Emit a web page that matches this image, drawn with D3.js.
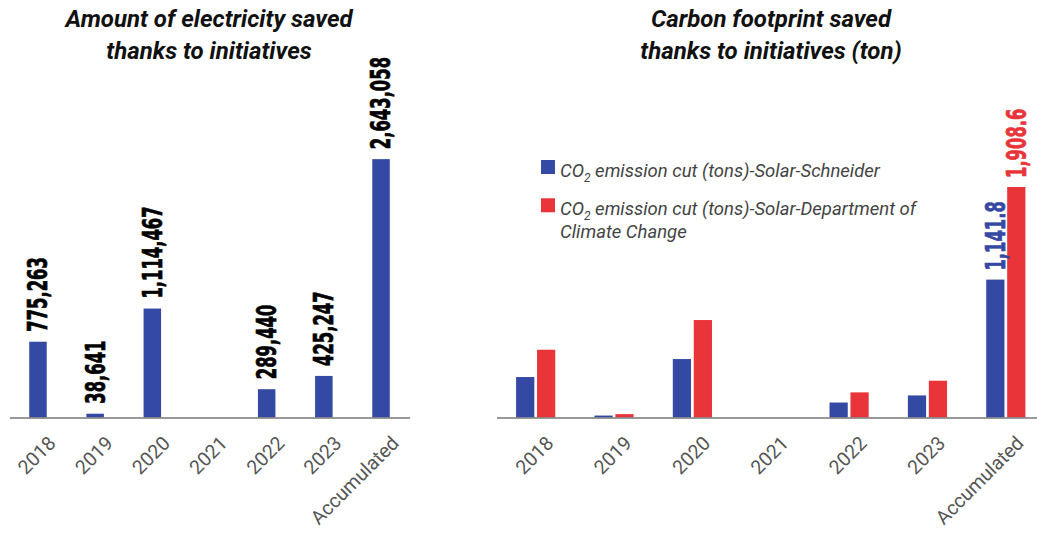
<!DOCTYPE html>
<html>
<head>
<meta charset="utf-8">
<script src="https://cdn.jsdelivr.net/npm/d3@7"></script>
<style>
  html, body { margin: 0; padding: 0; background: #fff; }
  svg { display: block; }
</style>
</head>
<body>
<svg width="1037" height="534"></svg>
<script>
// --- Dados ---
const categorias = ['2018', '2019', '2020', '2021', '2022', '2023', 'Accumulated'];
const eletricidade = [775263, 38641, 1114467, 0, 289440, 425247, 2643058];
const co2Schneider = [335, 16, 484, 0, 124, 182.8, 1141.8];
const co2Dcc = [561, 28, 807, 0, 208, 304.6, 1908.6];
const series = ['Schneider', 'DCC'];
const legendaSerie = ['CO2 emission cut (tons)-Solar-Schneider',
                      'CO2 emission cut (tons)-Solar-Department of|Climate Change'];

const AZUL = '#3449a3';
const VERMELHO = '#e9343a';
const fonteValor = '"Liberation Sans Narrow", "DejaVu Sans Condensed", sans-serif';
const fonteEixo = 'Roboto, sans-serif';

const svg = d3.select('svg');
const eixoY0 = 417.5;

// --- Títulos ---
function titulo(cx, linhas) {
    const t = svg.append('text')
        .attr('text-anchor', 'middle')
        .attr('font-family', fonteEixo)
        .attr('font-weight', 700)
        .attr('font-style', 'italic')
        .attr('font-size', 24)
        .attr('fill', '#111');
    linhas.forEach((l, i) => {
        t.append('tspan').attr('x', cx).attr('y', 26.5 + i * 32).text(l);
    });
}
titulo(209, ['Amount of electricity saved', 'thanks to initiatives']);
titulo(771, ['Carbon footprint saved', 'thanks to initiatives (ton)']);

// --- Eixo X comum ---
function eixoX(g, x) {
    const ax = g.append('g')
        .attr('transform', `translate(0, ${eixoY0})`)
        .call(d3.axisBottom(x).tickSize(0).tickSizeOuter(0));
    ax.select('.domain').attr('stroke', '#777').attr('stroke-width', 1.5);
    ax.selectAll('text')
        .attr('x', 0).attr('y', 0).attr('dy', 0)
        .attr('transform', 'translate(19, 27) rotate(-45)')
        .style('text-anchor', 'end')
        .attr('font-family', fonteEixo)
        .attr('font-size', 19.5)
        .attr('fill', '#555');
}

// rótulo de valor vertical, fonte condensada e pesada
function rotulo(sel, fx, fy) {
    sel.attr('transform', d => `translate(${fx(d)}, ${fy(d)}) rotate(-90) scale(0.7, 1)`)
        .attr('dy', '0.36em')
        .attr('font-family', fonteValor)
        .attr('font-weight', 700)
        .attr('font-size', 26)
        .attr('stroke-width', 0.7);
}

// ===== Gráfico 1: eletricidade =====
const g1 = svg.append('g');
const x1 = d3.scaleBand()
    .domain(categorias)
    .range([9.4, 409.6])
    .paddingInner(0.694)
    .paddingOuter(0.347);
const y1 = d3.scaleLinear()
    .domain([0, 3000000])
    .range([eixoY0, eixoY0 - 3000000 / 10230]);

const dados1 = categorias.map((c, i) => ({ cat: c, v: eletricidade[i] }));

g1.selectAll('rect')
    .data(dados1)
    .join('rect')
        .attr('x', d => x1(d.cat))
        .attr('y', d => y1(d.v))
        .attr('width', x1.bandwidth())
        .attr('height', d => y1(0) - y1(d.v))
        .attr('fill', AZUL);

eixoX(g1, x1);

g1.selectAll('text.valor')
    .data(dados1.filter(d => d.v > 0))
    .join('text')
        .attr('class', 'valor')
        .call(rotulo, d => x1(d.cat) + x1.bandwidth() / 2, d => y1(d.v) - 10)
        .attr('fill', '#000')
        .attr('stroke', '#000')
        .text(d => d3.format(',')(d.v));

// ===== Gráfico 2: CO2 =====
const g2 = svg.append('g');
const x2 = d3.scaleBand()
    .domain(categorias)
    .range([496.5, 1045])
    .paddingInner(0.5)
    .paddingOuter(0.25);
const xs = d3.scaleBand()
    .domain(series)
    .range([0, x2.bandwidth()])
    .paddingInner(0.13);
const y2 = d3.scaleLinear()
    .domain([0, 2500])
    .range([eixoY0, eixoY0 - 2500 / 8.28]);
const cor = d3.scaleOrdinal().domain(series).range([AZUL, VERMELHO]);

const dados2 = categorias.map((c, i) => ({
    cat: c,
    valores: [{ key: 'Schneider', v: co2Schneider[i] }, { key: 'DCC', v: co2Dcc[i] }]
}));

const grupos = g2.append('g')
    .selectAll('g')
    .data(dados2)
    .join('g')
        .attr('transform', d => `translate(${x2(d.cat)},0)`);

grupos.selectAll('rect')
    .data(d => d.valores)
    .join('rect')
        .attr('x', d => xs(d.key))
        .attr('y', d => y2(d.v))
        .attr('width', xs.bandwidth())
        .attr('height', d => y2(0) - y2(d.v))
        .attr('fill', d => cor(d.key));

eixoX(g2, x2);

// rótulos só no acumulado
const ultimo = dados2[dados2.length - 1];
g2.selectAll('text.valor')
    .data(ultimo.valores)
    .join('text')
        .attr('class', 'valor')
        .call(rotulo, d => x2(ultimo.cat) + xs(d.key) + xs.bandwidth() / 2, d => y2(d.v) - 9)
        .attr('fill', d => cor(d.key))
        .attr('stroke', d => cor(d.key))
        .text(d => d3.format(',.1f')(d.v));

// --- Legenda ---
const leg = svg.append('g')
    .selectAll('g')
    .data(series)
    .join('g')
        .attr('transform', (d, i) => `translate(541, ${160 + i * 38.3})`);

leg.append('rect')
    .attr('width', 14)
    .attr('height', 14)
    .attr('fill', d => cor(d));

leg.each(function (d, i) {
    const linhas = legendaSerie[i].split('|');
    const t = d3.select(this).append('text')
        .attr('font-family', fonteEixo)
        .attr('font-style', 'italic')
        .attr('font-size', 18.5)
        .attr('fill', '#444');
    linhas.forEach((l, j) => {
        if (l.startsWith('CO2')) {
            const lt = t.append('tspan').attr('x', 19).attr('y', 16.5 + j * 23);
            lt.append('tspan').text('CO');
            lt.append('tspan').attr('font-size', 12).attr('dy', 5).text('2');
            lt.append('tspan').attr('dy', -5).text(l.slice(3));
        } else {
            t.append('tspan').attr('x', 19).attr('y', 16.5 + j * 23).text(l);
        }
    });
});
</script>
</body>
</html>
